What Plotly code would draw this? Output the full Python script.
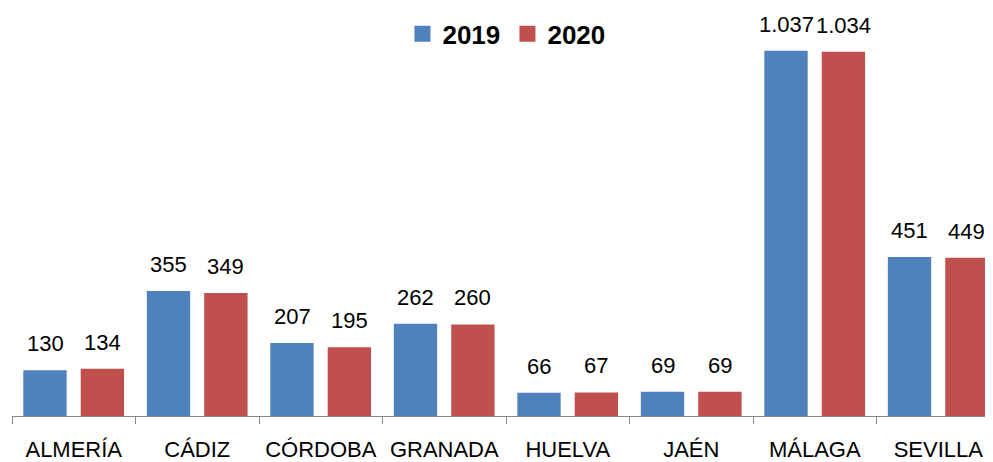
import plotly.graph_objects as go

categories = ["ALMERÍA", "CÁDIZ", "CÓRDOBA", "GRANADA", "HUELVA", "JAÉN", "MÁLAGA", "SEVILLA"]
values_2019 = [130, 355, 207, 262, 66, 69, 1037, 451]
values_2020 = [134, 349, 195, 260, 67, 69, 1034, 449]
series_names = ["2019", "2020"]
colors = ["#4F81BD", "#C0504D"]

FONT = "Liberation Sans"

def fmt(v):
    return f"{v:,}".replace(",", ".")

fig = go.Figure()
offsets = [-0.4085, 0.0563]
shifts = [-28.7, 28.7]
for name, vals, col, off in zip(series_names, [values_2019, values_2020], colors, offsets):
    fig.add_trace(go.Bar(x=categories, y=vals, name=name, marker=dict(color=col, line=dict(width=0)),
                         width=0.351, offset=off, showlegend=False))
    # legend proxy
    fig.add_trace(go.Scatter(x=[None], y=[None], mode="markers", name=name,
                             marker=dict(symbol="square", size=16, color=col)))

annotations = []
for vals, sh in zip([values_2019, values_2020], shifts):
    for c, v in zip(categories, vals):
        annotations.append(dict(x=c, y=v, text=fmt(v), showarrow=False, xshift=sh, yshift=12,
                                yanchor="bottom", xanchor="center",
                                font=dict(family=FONT, size=22, color="#000000")))

fig.update_layout(
    width=993, height=462,
    margin=dict(l=4, r=8, t=2, b=54),
    paper_bgcolor="white", plot_bgcolor="white",
    barmode="group",
    annotations=annotations,
    showlegend=True,
    legend=dict(orientation="h", x=0.398, y=0.941, xanchor="left", yanchor="middle",
                font=dict(family=FONT, size=26, color="#000000", weight="bold"),
                bgcolor="rgba(0,0,0,0)", entrywidth=60, entrywidthmode="pixels"),
    xaxis=dict(type="category", range=[-0.5, 7.443], showline=True, linecolor="#868686", linewidth=1,
               ticks="outside", tickson="boundaries", ticklen=7, tickcolor="#868686", tickwidth=1,
               showgrid=False, tickfont=dict(family=FONT, size=22, color="#000000"),
               ticklabelstandoff=14),
    yaxis=dict(range=[0, 1152.5], showgrid=False, showline=False, zeroline=False,
               showticklabels=False, ticks=""),
)

fig.write_html("out.html")
